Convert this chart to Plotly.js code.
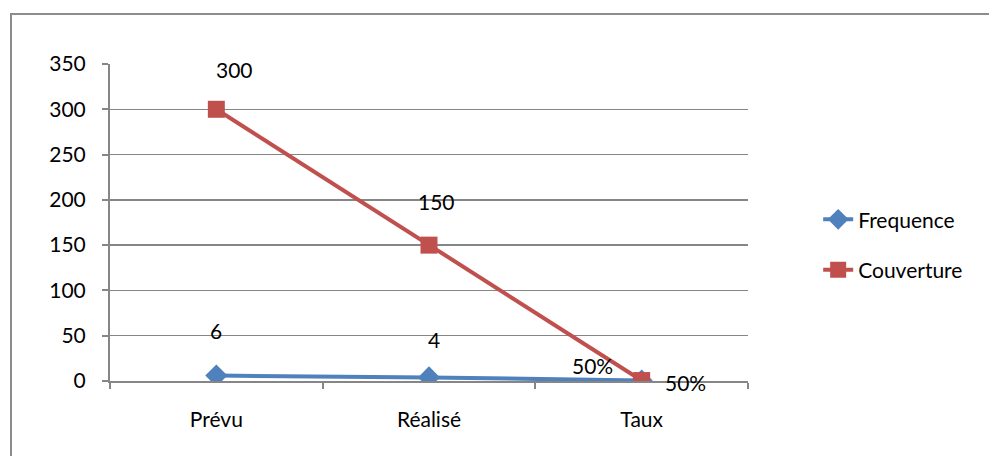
<!DOCTYPE html>
<html><head><meta charset="utf-8">
<script src="https://cdn.plot.ly/plotly-3.0.1.min.js"></script>
<style>
html,body{margin:0;padding:0;background:#fff;}
#wrap{position:relative;width:989px;height:456px;}
#frame{position:absolute;left:10px;top:13px;right:0;bottom:0;border-top:2px solid #8c8c8c;border-left:2px solid #8c8c8c;pointer-events:none;}
#chart{position:absolute;left:0;top:0;width:989px;height:456px;}
</style></head>
<body>
<div id="wrap"><div id="chart"></div><div id="frame"></div></div>
<script>
const categories = ["Prévu", "Réalisé", "Taux"];
const frequence = [6, 4, 0.5];
const couverture = [300, 150, 0.5];
const frequenceLabels = ["6", "4", "50%"];
const couvertureLabels = ["300", "150", "50%"];
const yTicks = [0, 50, 100, 150, 200, 250, 300, 350];

const FONT = "Lato, 'Open Sans', sans-serif";
const blue = "#4F81BD", red = "#C0504D";

// label offsets (pixels) for each point
const freqOff = [[0,-45],[5,-38],[-49,-15]];
const couvOff = [[18,-40],[7,-44],[44,2]];

const annotations = [];
categories.forEach((c,i)=>{
  annotations.push({x:c, y:frequence[i], xref:'x', yref:'y', text:frequenceLabels[i], showarrow:false,
    xshift:freqOff[i][0], yshift:-freqOff[i][1], font:{family:FONT,size:21,color:'#000'}});
  annotations.push({x:c, y:couverture[i], xref:'x', yref:'y', text:couvertureLabels[i], showarrow:false,
    xshift:couvOff[i][0], yshift:-couvOff[i][1], font:{family:FONT,size:21,color:'#000'}});
});

const traces = [
  {x:categories, y:frequence, name:'Frequence', type:'scatter', mode:'lines+markers', legendgroup:'a',
   line:{color:blue,width:4}, marker:{symbol:'diamond', size:17, color:blue}},
  {x:categories, y:couverture, name:'Couverture', type:'scatter', mode:'lines+markers', legendgroup:'b',
   line:{color:red,width:4}, marker:{symbol:'square', size:17, color:red}}
];

const layout = {
  width:989, height:456,
  margin:{l:110, r:241, t:64, b:75},
  paper_bgcolor:'#fff', plot_bgcolor:'#fff',
  font:{family:FONT, size:21, color:'#000'},
  showlegend:true,
  legend:{x:1.11, y:0.43, xanchor:'left', yanchor:'middle', tracegroupgap:20,
    font:{family:FONT,size:21,color:'#000'}, bgcolor:'rgba(0,0,0,0)'},
  xaxis:{type:'category', range:[-0.5,2.5], showgrid:false, showline:true, linecolor:'#868686', linewidth:2,
    ticks:'outside', tickson:'boundaries', ticklen:6, tickcolor:'#868686', tickwidth:2,
    ticklabelstandoff:19, tickfont:{family:FONT,size:21,color:'#000'}, zeroline:false, fixedrange:true},
  yaxis:{range:[0,350], tickvals:yTicks, ticktext:yTicks.map(String), showgrid:true, gridcolor:'#868686', gridwidth:1.5,
    showline:true, linecolor:'#868686', linewidth:2, ticks:'outside', ticklen:6, tickcolor:'#868686', tickwidth:2,
    ticklabelstandoff:12, tickfont:{family:FONT,size:21,color:'#000'}, zeroline:false, fixedrange:true},
  annotations:annotations
};

Plotly.newPlot('chart', traces, layout, {displayModeBar:false, staticPlot:true});
</script>
</body></html>
